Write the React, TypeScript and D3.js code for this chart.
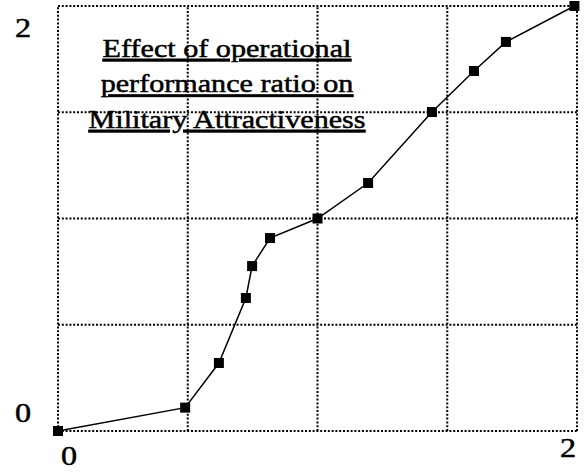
import React, { useEffect, useRef } from "react";
import * as d3 from "d3";

// curve
const ratioValues = [0, 0.49, 0.62, 0.724, 0.748, 0.817, 1.0, 1.195, 1.441, 1.603, 1.726, 1.99];
const attractValues = [0, 0.11, 0.32, 0.626, 0.776, 0.908, 1.0, 1.167, 1.501, 1.694, 1.831, 2.0];

const gridValues = [0, 0.5, 1, 1.5, 2];
const xTickLabels = [0, 2];
const yTickLabels = [0, 2];

const titleLines = ["Effect of operational", "performance ratio on", "Military Attractiveness"];

export default function App() {
    const ref = useRef<SVGSVGElement>(null);

    useEffect(() => {
        const width = 585;
        const height = 476;
        const svg = d3.select(ref.current);
        svg.selectAll("*").remove();

        const x = d3.scaleLinear().domain([0, 2]).range([58, 577]);
        const y = d3.scaleLinear().domain([0, 2]).range([431, 6]);

        const font = "'Liberation Serif', 'Times New Roman', serif";

        // dotted grid, frame included
        const grid = svg.append("g")
            .attr("stroke", "#000")
            .attr("stroke-width", 2)
            .attr("stroke-dasharray", "2,1.8");

        grid.selectAll(".vgrid")
            .data(gridValues)
            .enter().append("line")
            .attr("x1", d => x(d)).attr("x2", d => x(d))
            .attr("y1", y(0)).attr("y2", y(2));

        grid.selectAll(".hgrid")
            .data(gridValues)
            .enter().append("line")
            .attr("x1", x(0)).attr("x2", x(2))
            .attr("y1", d => y(d)).attr("y2", d => y(d));

        // title, underlined, slightly wide like the scan
        const title = svg.append("g")
            .attr("transform", "translate(227,0) scale(1.16,1)");
        titleLines.forEach((t, i) => {
            title.append("text")
                .attr("x", 0)
                .attr("y", 57 + i * 35.5)
                .attr("text-anchor", "middle")
                .attr("font-family", font)
                .attr("font-size", 26)
                .attr("text-decoration", "underline")
                .attr("fill", "#000")
                .attr("stroke", "#000")
                .attr("stroke-width", 0.5)
                .text(t);
        });

        // the curve
        const pts = ratioValues.map((v, i) => [v, attractValues[i]] as [number, number]);
        const line = d3.line<[number, number]>()
            .x(d => x(d[0]))
            .y(d => y(d[1]));

        svg.append("path")
            .datum(pts)
            .attr("d", line)
            .attr("fill", "none")
            .attr("stroke", "#000")
            .attr("stroke-width", 1.5);

        const m = 10;
        svg.selectAll(".marker")
            .data(pts)
            .enter().append("rect")
            .attr("x", d => x(d[0]) - m / 2)
            .attr("y", d => y(d[1]) - m / 2)
            .attr("width", m)
            .attr("height", m)
            .attr("fill", "#000");

        // tick labels sit just inside the ends of each axis
        yTickLabels.forEach(v => {
            const yy = v === 0 ? y(v) - 9 : y(v) + 31;
            svg.append("text")
                .attr("transform", `translate(23,${yy}) scale(1.15,1)`)
                .attr("text-anchor", "middle")
                .attr("font-family", font)
                .attr("font-size", 28)
                .attr("stroke", "#000")
                .attr("stroke-width", 0.5)
                .text(v);
        });

        xTickLabels.forEach(v => {
            const xx = v === 0 ? x(v) + 11 : x(v) - 9;
            const yy = v === 0 ? 465 : 457;
            svg.append("text")
                .attr("transform", `translate(${xx},${yy}) scale(1.15,1)`)
                .attr("text-anchor", "middle")
                .attr("font-family", font)
                .attr("font-size", 28)
                .attr("stroke", "#000")
                .attr("stroke-width", 0.5)
                .text(v);
        });

        svg.attr("width", width).attr("height", height);
    }, []);

    return (
        <svg
            ref={ref}
            width={585}
            height={476}
            style={{ position: "absolute", left: 0, top: 0, background: "#fff" }}
        />
    );
}
